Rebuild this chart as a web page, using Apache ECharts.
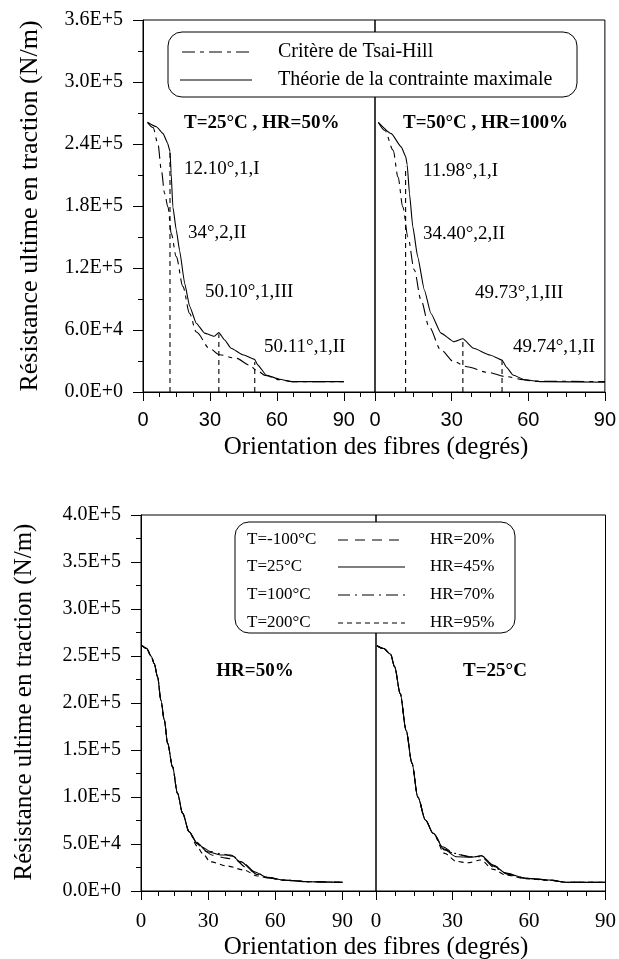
<!DOCTYPE html>
<html>
<head>
<meta charset="utf-8">
<script src="https://cdn.jsdelivr.net/npm/echarts@6/dist/echarts.min.js"></script>
<style>
  html, body { margin: 0; padding: 0; background: #fff; }
  #chart { width: 619px; height: 959px; }
</style>
</head>
<body>
<div id="chart"></div>
<script>
// ---- top figure : [angle (deg), strength (N/m)] ----
// left panel  T=25°C , HR=50%
const maxStressL = [[2, 261000], [6, 256700], [9, 250000], [11, 241000], [12.1, 233000], [12.6, 212000],
  [13.4, 179000], [14.9, 157000], [16.4, 137000], [18.7, 105000], [20.9, 83000], [23.9, 66500],
  [27.6, 57000], [32, 54000], [34, 57500], [36.6, 50300], [39.5, 42300], [44.8, 36000], [50, 31600],
  [51.5, 26000], [55.2, 16500], [61.2, 12300], [67, 10000], [90, 10000]];
const tsaiHillL = [[2, 261000], [4.5, 256000], [6.7, 240000], [8.2, 215000], [9.7, 192000], [11.2, 179000],
  [12.7, 153000], [14.9, 131000], [17.9, 102000], [20.9, 76000], [23.9, 58000], [29.9, 42000],
  [34.3, 36000], [41.8, 32600], [47.8, 26000], [50.7, 21300], [55, 16000], [61, 12000], [67, 10000], [90, 10000]];
const failAngleL = [12.1, 34, 50.1];
const failTopL = [232000, 56000, 29000];
const failTextL = ['12.10°,1,I', '34°,2,II', '50.10°,1,III', '50.11°,1,II'];

// right panel  T=50°C , HR=100%
const maxStressR = [[1.3, 261000], [6.4, 250000], [10.3, 237000], [12, 228000], [12.6, 220000], [13.5, 192000],
  [14.8, 160000], [16.7, 131000], [19.3, 99000], [21.9, 76000], [25.8, 57000], [30.9, 48700],
  [34.4, 51500], [38.6, 42300], [45, 35800], [49.7, 31000], [51.5, 24000], [54, 16500], [58.6, 11800],
  [65, 10000], [90, 9500]];
const tsaiHillR = [[1.3, 261000], [3.9, 253000], [7.1, 234000], [9, 208000], [10.9, 179000], [12.9, 150000],
  [15.4, 118000], [18, 89000], [21.2, 63000], [25.8, 40600], [30.9, 29300], [36, 24500], [44, 19000],
  [51.5, 14800], [58, 12000], [62, 10500], [90, 10000]];
const failAngleR = [11.98, 34.4, 49.74];
const failTopR = [218000, 50300, 31000];
const failTextR = ['11.98°,1,I', '34.40°,2,II', '49.73°,1,III', '49.74°,1,II'];

// ---- bottom figure ----
const tempLabels = ['T=-100°C', 'T=25°C', 'T=100°C', 'T=200°C'];
const hrLabels = ['HR=20%', 'HR=45%', 'HR=70%', 'HR=95%'];
const commonHeadL = [[0.5, 261000], [2.5, 258000], [4.5, 250000], [5.9, 242000], [7.4, 228000], [8.9, 203000],
  [10.4, 182000], [11.9, 157000], [14.1, 132000], [16.3, 104000], [18.6, 82600], [21.5, 63000]];
const tm100L = [[25.2, 50000], [28, 43000], [32, 38000], [38, 35000], [42, 33500], [47, 25000], [52, 17500],
  [57, 14000], [64, 11500], [75, 9900], [90, 9200]];
const t25L = [[25.2, 50700], [29.7, 41800], [35.6, 38300], [40.1, 38300], [44.5, 31200], [50.5, 20500],
  [56.4, 14500], [63.8, 11700], [74.2, 9900], [90, 9200]];
const t100L = [[24, 55000], [27, 47000], [31, 42000], [36, 39500], [41, 37000], [46, 29000], [51, 20000],
  [57, 14200], [64, 11600], [75, 9900], [90, 9200]];
const t200L = [[25, 48000], [27.5, 40000], [31, 31000], [38.6, 26500], [46, 22300], [52, 16000], [57, 13800],
  [64, 11500], [75, 9900], [90, 9200]];

const commonHeadR = [[0.4, 261000], [3, 258000], [5.7, 252000], [7.3, 238600], [9.5, 210000], [11.8, 171000],
  [14.1, 136000], [16.4, 100000], [19.4, 75500], [22.4, 61400]];
const hr20R = [[26.9, 44500], [30, 40500], [34, 38000], [38, 36000], [41.3, 37500], [46, 27500], [51, 19000],
  [58.7, 13500], [67.7, 11700], [75.3, 9200], [90, 9200]];
const hr45R = [[26.9, 43600], [31.5, 36500], [37.5, 36000], [41.3, 37500], [46.6, 25900], [51.1, 18800],
  [58.7, 13500], [67.7, 11700], [75.3, 9200], [90, 9200]];
const hr70R = [[26, 47000], [31, 40000], [36, 36500], [41, 36500], [47, 24000], [52, 17500], [58.7, 13400],
  [67.7, 11600], [75.3, 9200], [90, 9200]];
const hr95R = [[26.9, 40000], [31.5, 31500], [36, 30000], [41, 33000], [46, 23000], [51, 17000], [58.7, 13000],
  [67.7, 11500], [75.3, 9200], [90, 9200]];

const dashTsai = [13, 5, 4, 5];
const dashStyles = [[10, 7], 'solid', [12, 5, 2, 5], [5, 4]];

const chart = echarts.init(document.getElementById('chart'));

const serifTop = 'Liberation Serif';
const sansTop = 'Liberation Sans';

function xAxisCfg(gridIndex, max, font, size, margin) {
  return {
    type: 'value', gridIndex, min: 0, max, interval: 30,
    axisLine: { show: true, onZero: false, lineStyle: { color: '#000', width: 1 } },
    axisTick: { show: true, inside: false, length: 9, lineStyle: { color: '#000' } },
    minorTick: { show: true, splitNumber: 4, length: 5, lineStyle: { color: '#000' } },
    splitLine: { show: false },
    axisLabel: {
      color: '#000', fontFamily: font, fontSize: size, margin,
      formatter: v => (v % 30 === 0 ? String(v) : '')
    }
  };
}

function yAxisLeft(gridIndex, max, interval) {
  return {
    type: 'value', gridIndex, min: 0, max, interval,
    axisLine: { show: true, lineStyle: { color: '#000', width: 1 } },
    axisTick: { show: true, inside: false, length: 10, lineStyle: { color: '#000' } },
    minorTick: { show: true, splitNumber: 2, length: 5, lineStyle: { color: '#000' } },
    splitLine: { show: false },
    axisLabel: {
      color: '#000', fontFamily: serifTop, fontSize: 20, margin: 20,
      formatter: v => v.toExponential(1).replace('e', 'E')
    }
  };
}

function yAxisRight(gridIndex, max, interval) {
  return {
    type: 'value', gridIndex, min: 0, max, interval,
    axisLine: { show: false }, axisTick: { show: false },
    axisLabel: { show: false }, splitLine: { show: false }
  };
}

function line(name, data, idx, dash, smooth) {
  return {
    name, type: 'line', data, xAxisIndex: idx, yAxisIndex: idx,
    symbol: 'none', silent: true, animation: false,
    smooth: smooth || false, smoothMonotone: 'x',
    lineStyle: { color: '#000', width: 1.1, type: dash }
  };
}

function failLines(angles, tops, idx) {
  return angles.map((a, i) => line('rupture ' + a, [[a, 0], [a, tops[i]]], idx, [5, 4]));
}

const series = [
  line('Critère de Tsai-Hill', tsaiHillL, 0, dashTsai, 0.3),
  line('Théorie de la contrainte maximale', maxStressL, 0, 'solid', 0.15),
  ...failLines(failAngleL, failTopL, 0),
  line('Critère de Tsai-Hill', tsaiHillR, 1, dashTsai, 0.3),
  line('Théorie de la contrainte maximale', maxStressR, 1, 'solid', 0.15),
  ...failLines(failAngleR, failTopR, 1),
  line(tempLabels[0], commonHeadL.concat(tm100L), 2, dashStyles[0], 0.3),
  line(tempLabels[1], commonHeadL.concat(t25L), 2, dashStyles[1], 0.3),
  line(tempLabels[2], commonHeadL.concat(t100L), 2, dashStyles[2], 0.3),
  line(tempLabels[3], commonHeadL.concat(t200L), 2, dashStyles[3], 0.3),
  line(hrLabels[0], commonHeadR.concat(hr20R), 3, dashStyles[0], 0.3),
  line(hrLabels[1], commonHeadR.concat(hr45R), 3, dashStyles[1], 0.3),
  line(hrLabels[2], commonHeadR.concat(hr70R), 3, dashStyles[2], 0.3),
  line(hrLabels[3], commonHeadR.concat(hr95R), 3, dashStyles[3], 0.3)
];

function txt(text, x, y, size, align, extra, bold) {
  return Object.assign({
    type: 'text', x, y, z: 110,
    style: {
      text, fill: '#000', fontFamily: serifTop, fontSize: size, fontWeight: bold ? 'bold' : 'normal',
      align: align || 'left', verticalAlign: 'middle'
    }
  }, extra || {});
}
function seg(x1, y1, x2, y2, dash) {
  return {
    type: 'line', z: 110, shape: { x1, y1, x2, y2 },
    style: { stroke: '#000', lineWidth: 1.1, lineDash: dash === 'solid' ? null : dash }
  };
}

const graphics = [
  // top legend
  { type: 'rect', z: 100, shape: { x: 168, y: 32, width: 409, height: 65, r: 14 },
    style: { fill: '#fff', stroke: '#000', lineWidth: 1 } },
  seg(182, 52, 252, 52, dashTsai),
  txt('Critère de Tsai-Hill', 278, 52, 20),
  seg(180, 80, 252, 80, 'solid'),
  txt('Théorie de la contrainte maximale', 278, 80, 20),
  txt('T=25°C , HR=50%', 184, 123, 19, 'left', null, true),
  txt('T=50°C , HR=100%', 403, 123, 19, 'left', null, true),
  txt(failTextL[0], 184, 169, 19),
  txt(failTextL[1], 188, 233, 19),
  txt(failTextL[2], 205, 292, 19),
  txt(failTextL[3], 264, 347, 19),
  txt(failTextR[0], 423, 171, 19),
  txt(failTextR[1], 423, 234, 19),
  txt(failTextR[2], 475, 293, 19),
  txt(failTextR[3], 513, 347, 19),
  txt('Résistance ultime en traction (N/m)', 30, 206, 26, 'center', { rotation: Math.PI / 2 }),
  txt('Orientation des fibres (degrés)', 376, 447, 25, 'center'),
  // bottom legend
  { type: 'rect', z: 100, shape: { x: 235, y: 522, width: 280, height: 111, r: 14 },
    style: { fill: '#fff', stroke: '#000', lineWidth: 1 } },
  txt('HR=50%', 255, 671, 19, 'center', null, true),
  txt('T=25°C', 495, 671, 19, 'center', null, true),
  txt('Résistance ultime en traction (N/m)', 24, 702, 25, 'center', { rotation: Math.PI / 2 }),
  txt('Orientation des fibres (degrés)', 376, 947, 25, 'center')
];
const rowsY = [540, 567, 595, 623];
rowsY.forEach((y, i) => {
  graphics.push(txt(tempLabels[i], 247, y, 17));
  graphics.push(seg(338, y, 405, y, dashStyles[i]));
  graphics.push(txt(hrLabels[i], 430, y, 17));
});

const gridBase = { show: true, borderColor: '#000', borderWidth: 1, backgroundColor: 'transparent' };

chart.setOption({
  animation: false,
  backgroundColor: '#fff',
  grid: [
    Object.assign({ left: 143, top: 20, width: 232, height: 372 }, gridBase),
    Object.assign({ left: 375, top: 20, width: 233, height: 372 }, gridBase),
    Object.assign({ left: 141, top: 515, width: 235, height: 376 }, gridBase),
    Object.assign({ left: 376, top: 515, width: 232, height: 376 }, gridBase)
  ],
  xAxis: [
    xAxisCfg(0, 104, sansTop, 20, 18),
    xAxisCfg(1, 90, sansTop, 20, 18),
    xAxisCfg(2, 105, serifTop, 21, 20),
    xAxisCfg(3, 90, serifTop, 21, 20)
  ],
  yAxis: [
    yAxisLeft(0, 360000, 60000),
    yAxisRight(1, 360000, 60000),
    yAxisLeft(2, 400000, 50000),
    yAxisRight(3, 400000, 50000)
  ],
  series,
  graphic: graphics
});
</script>
</body>
</html>
